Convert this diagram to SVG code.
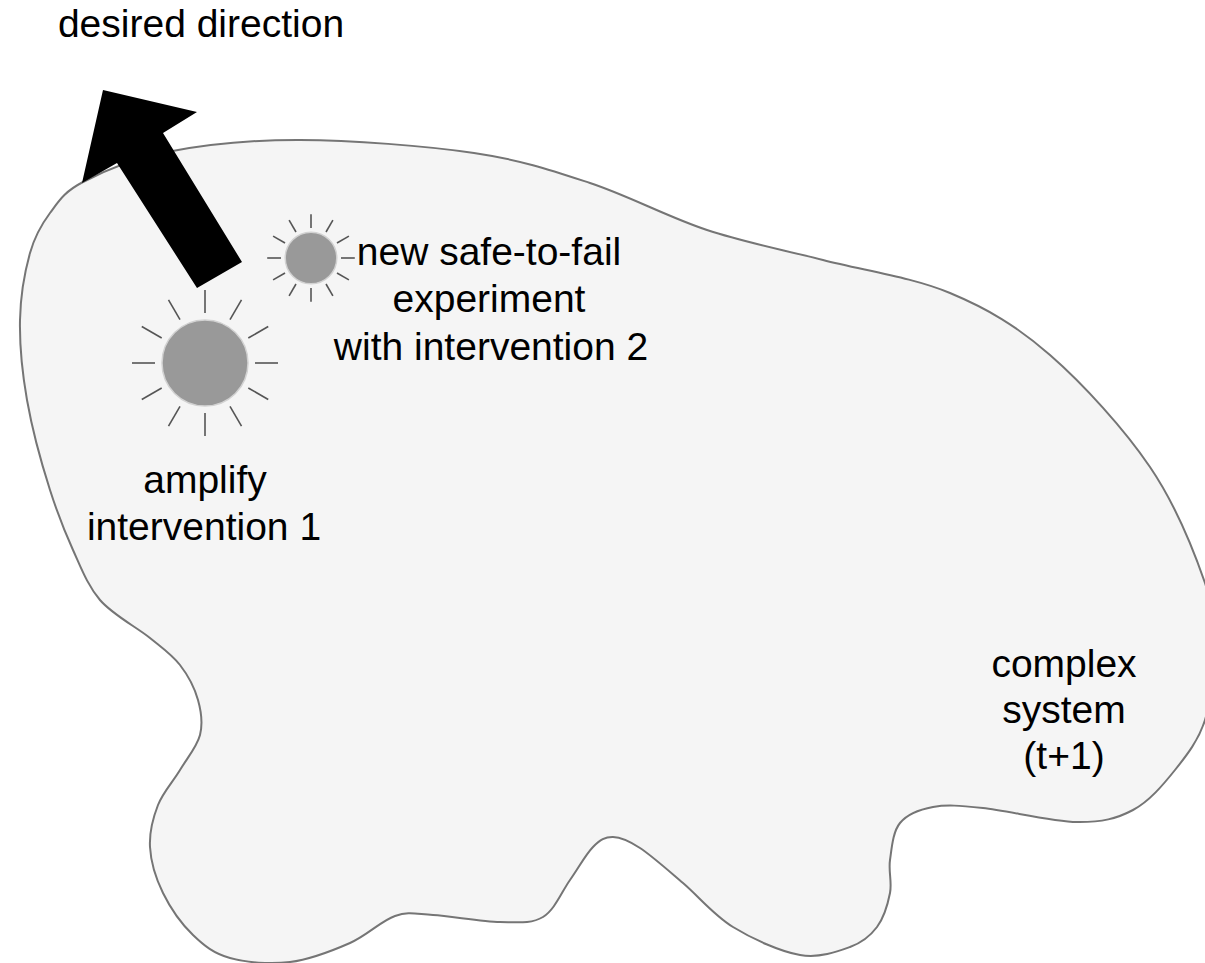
<svg xmlns="http://www.w3.org/2000/svg" xmlns:xlink="http://www.w3.org/1999/xlink" width="1205" height="963" viewBox="0 0 1205 963">
  <style>
    .label { font-family: "Liberation Sans", Arial, Helvetica, sans-serif; font-size: 39px; fill: #000; text-anchor: middle; }
    .system { fill: #f5f5f5; stroke: #757575; stroke-width: 2; stroke-linejoin: round; }
    .core { fill: #999999; stroke: #d2d2d2; stroke-width: 1.5; vector-effect: non-scaling-stroke; }
    .ray { stroke: #555555; stroke-width: 1.6; stroke-linecap: butt; vector-effect: non-scaling-stroke; }
    .direction { fill: #000; }
  </style>
  <defs>
    <!-- a glowing intervention: disc with twelve short rays -->
    <line id="ray" class="ray" x1="0" y1="-50" x2="0" y2="-73"/>
    <g id="sun">
      <use xlink:href="#ray"/>
      <use xlink:href="#ray" transform="rotate(30)"/>
      <use xlink:href="#ray" transform="rotate(60)"/>
      <use xlink:href="#ray" transform="rotate(90)"/>
      <use xlink:href="#ray" transform="rotate(120)"/>
      <use xlink:href="#ray" transform="rotate(150)"/>
      <use xlink:href="#ray" transform="rotate(180)"/>
      <use xlink:href="#ray" transform="rotate(210)"/>
      <use xlink:href="#ray" transform="rotate(240)"/>
      <use xlink:href="#ray" transform="rotate(270)"/>
      <use xlink:href="#ray" transform="rotate(300)"/>
      <use xlink:href="#ray" transform="rotate(330)"/>
      <circle class="core" cx="0" cy="0" r="43"/>
    </g>
  </defs>

  <!-- the complex system outline -->
  <g id="complex-system">
    <path class="system" d="M83,182
      C102.5,171.8 130.8,159 167,152
      S248.8,139.8 300,140
      S425.7,145.8 474,153
      S551.2,170.2 590,183
      S668.2,217.2 707,230
      S782.5,249.5 823,260
      S912.2,277.2 950,293
      S1016.7,326 1050,355
      S1124.2,429 1150,467
      S1194.5,552.5 1205,583
      S1213,627.2 1213,650
      S1211.3,700 1205,720
      S1187,755 1175,770
      S1149.3,801.3 1133,810
      S1102,822.3 1077,822
      S1007,810.5 983,808
      S946.8,804.5 933,807
      S907.2,814.2 900,823
      S891.7,848.3 890,860
      S892.2,881.8 890,893
      S883.7,918 877,927
      S862.8,942.3 850,947
      S819.5,958.3 800,955
      S752.5,939 733,927
      S698.5,896.2 683,883
      S651.7,855.7 640,848
      S620.8,837.2 613,837
      S600.2,839.8 593,847
      S578.3,868.3 570,880
      S554.7,910 543,917
      S518.3,922.3 500,922
      S450.5,916 433,915
      S408.8,911.3 395,916
      S367.5,935.3 350,943
      S310,959.5 290,962
      S246.2,962.5 230,958
      S204.2,945.8 193,935
      S170.2,907.7 163,893
      S150.8,861.7 150,847
      S153,817.8 158,805
      S173,781.7 180,770
      S197,746.7 200,735
      S201.3,711.7 198,700
      S188,675.3 180,665
      S163.3,648.8 150,638
      S112.5,614.7 100,600
      S81.3,568.3 73,550
      S58,515 50,490
      S32,428.3 27,400
      S19.5,344.5 20,320
      S25,270.8 30,253
      S41.2,224.8 50,213
      S63.5,192.2 83,182 Z"/>
    <text class="label" x="1064" y="677">complex</text>
    <text class="label" x="1064" y="723">system</text>
    <text class="label" x="1064" y="769">(t+1)</text>
  </g>

  <!-- desired direction -->
  <g id="desired-direction">
    <polygon class="direction" points="103,90 197,112 163,133 242,262 197,288 117,163 82,183"/>
    <text class="label" x="201" y="37">desired direction</text>
  </g>

  <!-- intervention 1 being amplified -->
  <g id="intervention-1">
    <use xlink:href="#sun" transform="translate(205,363)"/>
    <text class="label" x="205" y="493">amplify</text>
    <text class="label" x="204" y="540">intervention 1</text>
  </g>

  <!-- new safe-to-fail experiment -->
  <g id="intervention-2">
    <use xlink:href="#sun" transform="translate(311,258) scale(0.6)"/>
    <text class="label" x="489" y="265">new safe-to-fail</text>
    <text class="label" x="489" y="312">experiment</text>
    <text class="label" x="491" y="360">with intervention 2</text>
  </g>

  <!-- connectors: none besides the direction arrow -->
  <g id="connectors"/>
</svg>
